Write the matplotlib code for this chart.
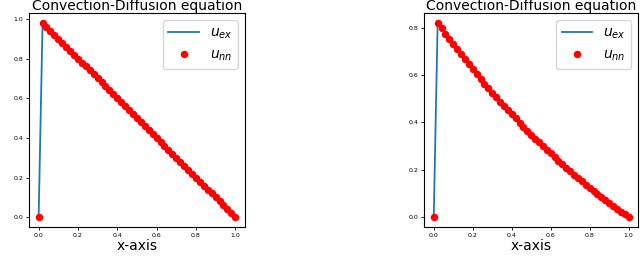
import numpy as np
import matplotlib
matplotlib.use("Agg")
import matplotlib.pyplot as plt

# grid points
x = [round(0.02 * i, 2) for i in range(51)]

# left case: linear profile
u_left = [0.0, 0.98, 0.96, 0.94, 0.92, 0.90, 0.88, 0.86, 0.84, 0.82, 0.80,
          0.78, 0.76, 0.74, 0.72, 0.70, 0.68, 0.66, 0.64, 0.62, 0.60,
          0.58, 0.56, 0.54, 0.52, 0.50, 0.48, 0.46, 0.44, 0.42, 0.40,
          0.38, 0.36, 0.34, 0.32, 0.30, 0.28, 0.26, 0.24, 0.22, 0.20,
          0.18, 0.16, 0.14, 0.12, 0.10, 0.08, 0.06, 0.04, 0.02, 0.0]

# right case: curved profile
u_right = [0.0, 0.820, 0.797, 0.774, 0.752, 0.730, 0.708, 0.687, 0.666, 0.645, 0.624,
           0.604, 0.584, 0.564, 0.545, 0.526, 0.507, 0.488, 0.470, 0.452, 0.434,
           0.417, 0.399, 0.382, 0.365, 0.349, 0.332, 0.316, 0.300, 0.284, 0.269,
           0.253, 0.238, 0.223, 0.209, 0.194, 0.180, 0.166, 0.152, 0.138, 0.125,
           0.112, 0.099, 0.086, 0.073, 0.060, 0.048, 0.036, 0.024, 0.012, 0.0]

fig = plt.figure(figsize=(6.4, 2.68), dpi=100)
ax1 = fig.add_axes([0.045, 0.153, 0.338, 0.798])
ax2 = fig.add_axes([0.6625, 0.153, 0.335, 0.798])

for ax, u in [(ax1, u_left), (ax2, u_right)]:
    ax.plot(x, u, color="C0", lw=1.3, label=r"$u_{ex}$")
    ax.plot(x, u, "o", color="red", ms=4.4, label=r"$u_{nn}$")
    ax.set_title("Convection-Diffusion equation", fontsize=10, pad=2)
    ax.set_xlabel("x-axis", fontsize=10, labelpad=1)
    ax.set_xticks([0.0, 0.2, 0.4, 0.6, 0.8, 1.0])
    ax.tick_params(labelsize=4.5, length=2, width=0.6, pad=2)
    ax.legend(loc="upper right", fontsize=10, handlelength=2.2)

ax1.set_yticks([0.0, 0.2, 0.4, 0.6, 0.8, 1.0])
ax2.set_yticks([0.0, 0.2, 0.4, 0.6, 0.8])

fig.savefig("out.png", dpi=100)
